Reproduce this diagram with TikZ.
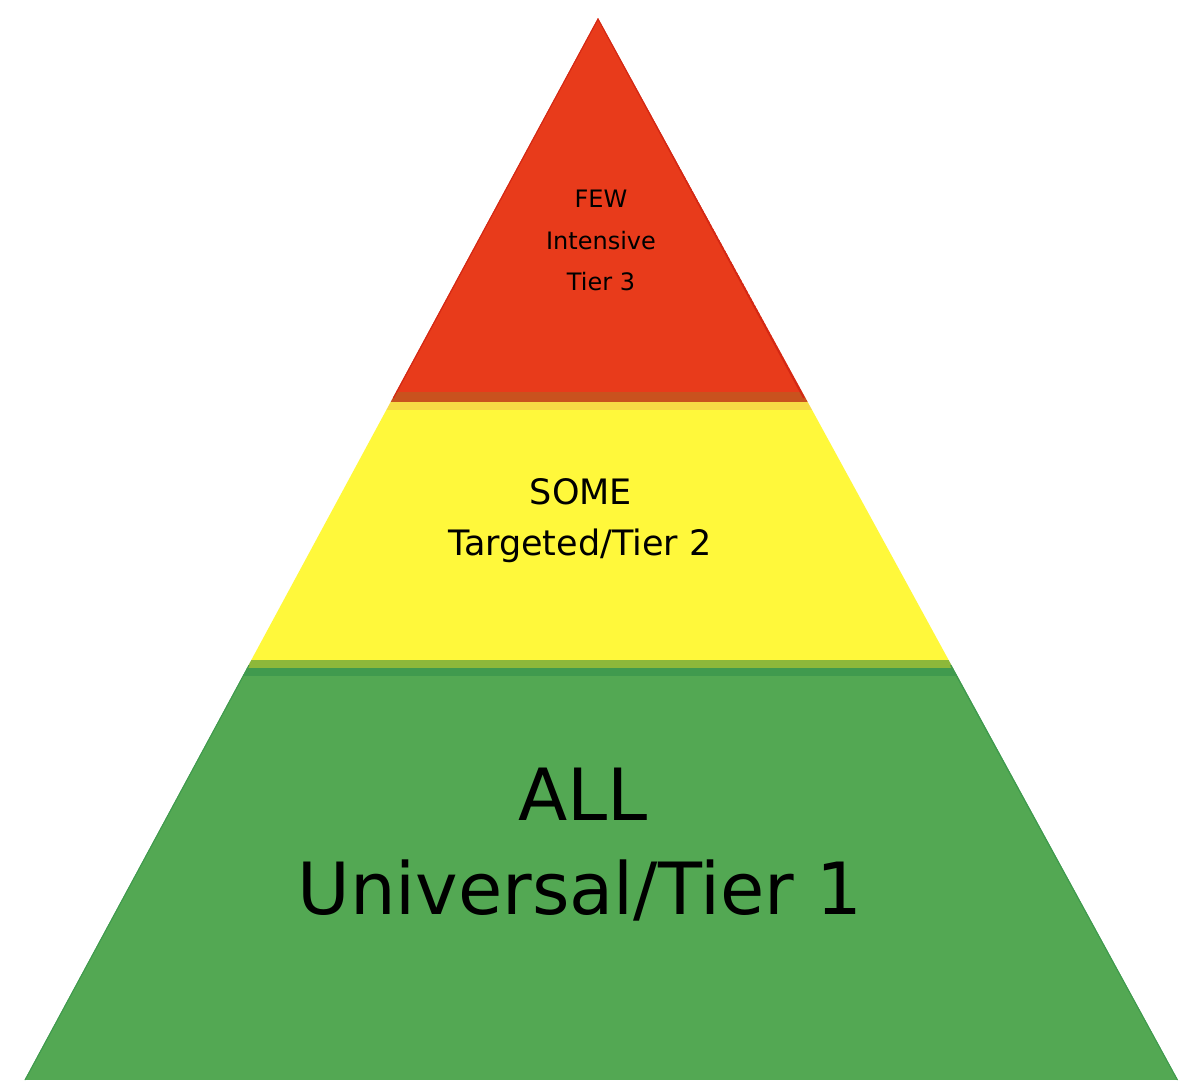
\documentclass[tikz,border=0pt]{standalone}
\usepackage{fontspec}
\setmainfont{DejaVu Sans}
\definecolor{tierred}{HTML}{E83B1B}
\definecolor{tierredEdge}{HTML}{D42814}
\definecolor{tierbrown}{HTML}{C9521E}
\definecolor{tieryellowTop}{HTML}{F7DB45}
\definecolor{tieryellow}{HTML}{FFF83B}
\definecolor{tierlime}{HTML}{8DB83A}
\definecolor{tiergreenTop}{HTML}{409A4E}
\definecolor{tiergreen}{HTML}{53A853}
\definecolor{tiergreenEdge}{HTML}{3F9A4E}
\begin{document}
\begin{tikzpicture}[x=1pt,y=-1pt,
  lbl/.style={anchor=base, inner sep=0pt, text=black},
  small/.style={lbl, font=\fontsize{24}{28}\selectfont},
  mid/.style={lbl, font=\fontsize{35}{42}\selectfont},
  big/.style={lbl, font=\fontsize{72}{86}\selectfont},
  edgeline/.style={line width=2pt}]
\useasboundingbox (0,0) rectangle (1194,1080);
\fill[white] (0,0) rectangle (1194,1080);
\coordinate (apex) at (598,18);
\coordinate (bl) at (24.5,1080);
\coordinate (br) at (1178,1080);
\coordinate (rl) at (393,398);
\coordinate (rr) at (804,398);
\coordinate (gl) at (248.6,665);
\coordinate (gr) at (951,665);
\begin{scope}
  \clip (apex) -- (br) -- (bl) -- cycle;
  \fill[tierred] (0,0) rectangle (1194,392);
  \fill[tierbrown] (0,392) rectangle (1194,402);
  \fill[tieryellowTop] (0,402) rectangle (1194,410);
  \fill[tieryellow] (0,410) rectangle (1194,660);
  \fill[tierlime] (0,660) rectangle (1194,668);
  \fill[tiergreenTop] (0,668) rectangle (1194,676);
  \fill[tiergreen] (0,676) rectangle (1194,1080);
  \draw[tierredEdge, edgeline] (rl) -- (apex) -- (rr);
  \draw[tiergreenEdge, edgeline] (gl) -- (bl);
  \draw[tiergreenEdge, edgeline] (gr) -- (br);
\end{scope}
\node[small] (few) at (601,207) {FEW};
\node[small] (intensive) at (601,249) {Intensive};
\node[small] (tier3) at (601,290) {Tier 3};
\node[mid] (some) at (581,504) {SOME};
\node[mid] (targeted) at (580,555) {Targeted/Tier 2};
\node[big] (all) at (583,820) {ALL};
\node[big] (universal) at (580,914) {Universal/Tier 1};
\end{tikzpicture}
\end{document}
